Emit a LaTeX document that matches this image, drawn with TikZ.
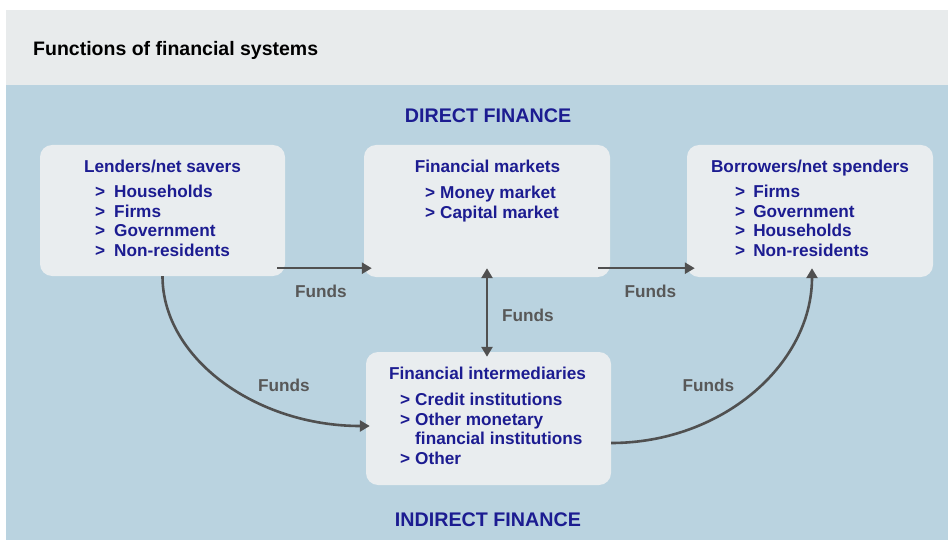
\documentclass[tikz,border=0pt]{standalone}
\usepackage{fontspec}
\setmainfont{Liberation Sans}
\usetikzlibrary{arrows.meta,calc}
\definecolor{navy}{RGB}{28,28,145}
\definecolor{headbg}{RGB}{232,235,236}
\definecolor{bandbg}{RGB}{186,211,224}
\definecolor{boxbg}{RGB}{233,237,239}
\definecolor{arrowgray}{RGB}{80,80,80}
\definecolor{fundsgray}{RGB}{88,88,88}
\tikzset{
  box/.style={fill=boxbg, draw=none, rounded corners=12pt, minimum width=245pt, minimum height=132pt, inner sep=0pt},
  boxtitle/.style={text=navy, font=\fontsize{17.2}{19.5}\selectfont\bfseries, inner sep=0pt, anchor=base},
  itemlist/.style={text=navy, font=\fontsize{17.2}{19.5}\selectfont\bfseries, inner sep=0pt, anchor=base west},
  heading/.style={text=navy, font=\fontsize{19.7}{23}\selectfont\bfseries, inner sep=0pt, anchor=base},
  funds/.style={text=fundsgray, font=\fontsize{17.2}{19.5}\selectfont\bfseries, inner sep=0pt, anchor=base},
  conn/.style={draw=arrowgray, line width=2.6pt, -{Triangle[length=10pt,width=11pt]}},
  dconn/.style={draw=arrowgray, line width=2.6pt, {Triangle[length=10pt,width=11pt]}-{Triangle[length=10pt,width=11pt]}}
}
\begin{document}
\begin{tikzpicture}[x=1pt,y=-1pt]
\useasboundingbox (0,0) rectangle (948,540);
\fill[white] (0,0) rectangle (948,540);
\fill[headbg] (6,10) rectangle (948,85);
\fill[bandbg] (6,85) rectangle (948,540);

\node[inner sep=0pt, anchor=base west, font=\fontsize{19.5}{23}\selectfont\bfseries] (title) at (33,56) {Functions of financial systems};

\node[heading] (direct) at (488,123) {DIRECT FINANCE};
\node[heading] (indirect) at (488,526) {INDIRECT FINANCE};

% boxes
\node[box, minimum width=245pt, minimum height=131pt] (lend) at (162.5,210.5) {};
\node[box, minimum width=246pt, minimum height=132pt] (fmkt) at (487,211) {};
\node[box, minimum width=246pt, minimum height=132pt] (borr) at (810,211) {};
\node[box, minimum width=245pt, minimum height=133pt] (inter) at (488.5,418.5) {};

% box texts
\node[boxtitle] (lendT) at (162.5,173) {Lenders/net savers};
\node[itemlist] (lendL) at (95,198) {\begin{tabular}[t]{@{}l@{\hspace{9pt}}l@{}}> & Households\\> & Firms\\> & Government\\> & Non-residents\end{tabular}};

\node[boxtitle] (fmktT) at (487.5,173) {Financial markets};
\node[itemlist] (fmktL) at (425,199) {\begin{tabular}[t]{@{}l@{\hspace{5pt}}l@{}}> & Money market\\> & Capital market\end{tabular}};

\node[boxtitle] (borrT) at (810,173) {Borrowers/net spenders};
\node[itemlist] (borrL) at (735,198) {\begin{tabular}[t]{@{}l@{\hspace{8pt}}l@{}}> & Firms\\> & Government\\> & Households\\> & Non-residents\end{tabular}};

\node[boxtitle] (interT) at (487.5,379.5) {Financial intermediaries};
\node[itemlist] (interL) at (400,405.5) {\begin{tabular}[t]{@{}l@{\hspace{5pt}}l@{}}> & Credit institutions\\> & Other monetary\\ & financial institutions\\> & Other\end{tabular}};

% connectors
\draw[conn] ($(lend.south east)+(-8,-8)$) -- ($(fmkt.south west)+(8,-9)$);
\draw[conn] ($(fmkt.south east)+(-12,-9)$) -- ($(borr.south west)+(8,-9)$);
\draw[dconn] ($(fmkt.south)+(0,-9)$) -- ($(fmkt.south |- inter.north)+(0,5)$);
\draw[conn] (lend.south) .. controls +(0,82) and +(-114,0) .. ($(inter.west)+(4,7.5)$);
\draw[conn] ($(inter.east)+(0,24.5)$) .. controls +(111,0) and +(0,96) .. ($(borr.south)+(2,-9)$);

% labels
\node[funds] (f1) at (321,297.5) {Funds};
\node[funds] (f2) at (650.5,297) {Funds};
\node[funds] (f3) at (528,321) {Funds};
\node[funds] (f4) at (284,391.5) {Funds};
\node[funds] (f5) at (708.5,391) {Funds};
\end{tikzpicture}
\end{document}
